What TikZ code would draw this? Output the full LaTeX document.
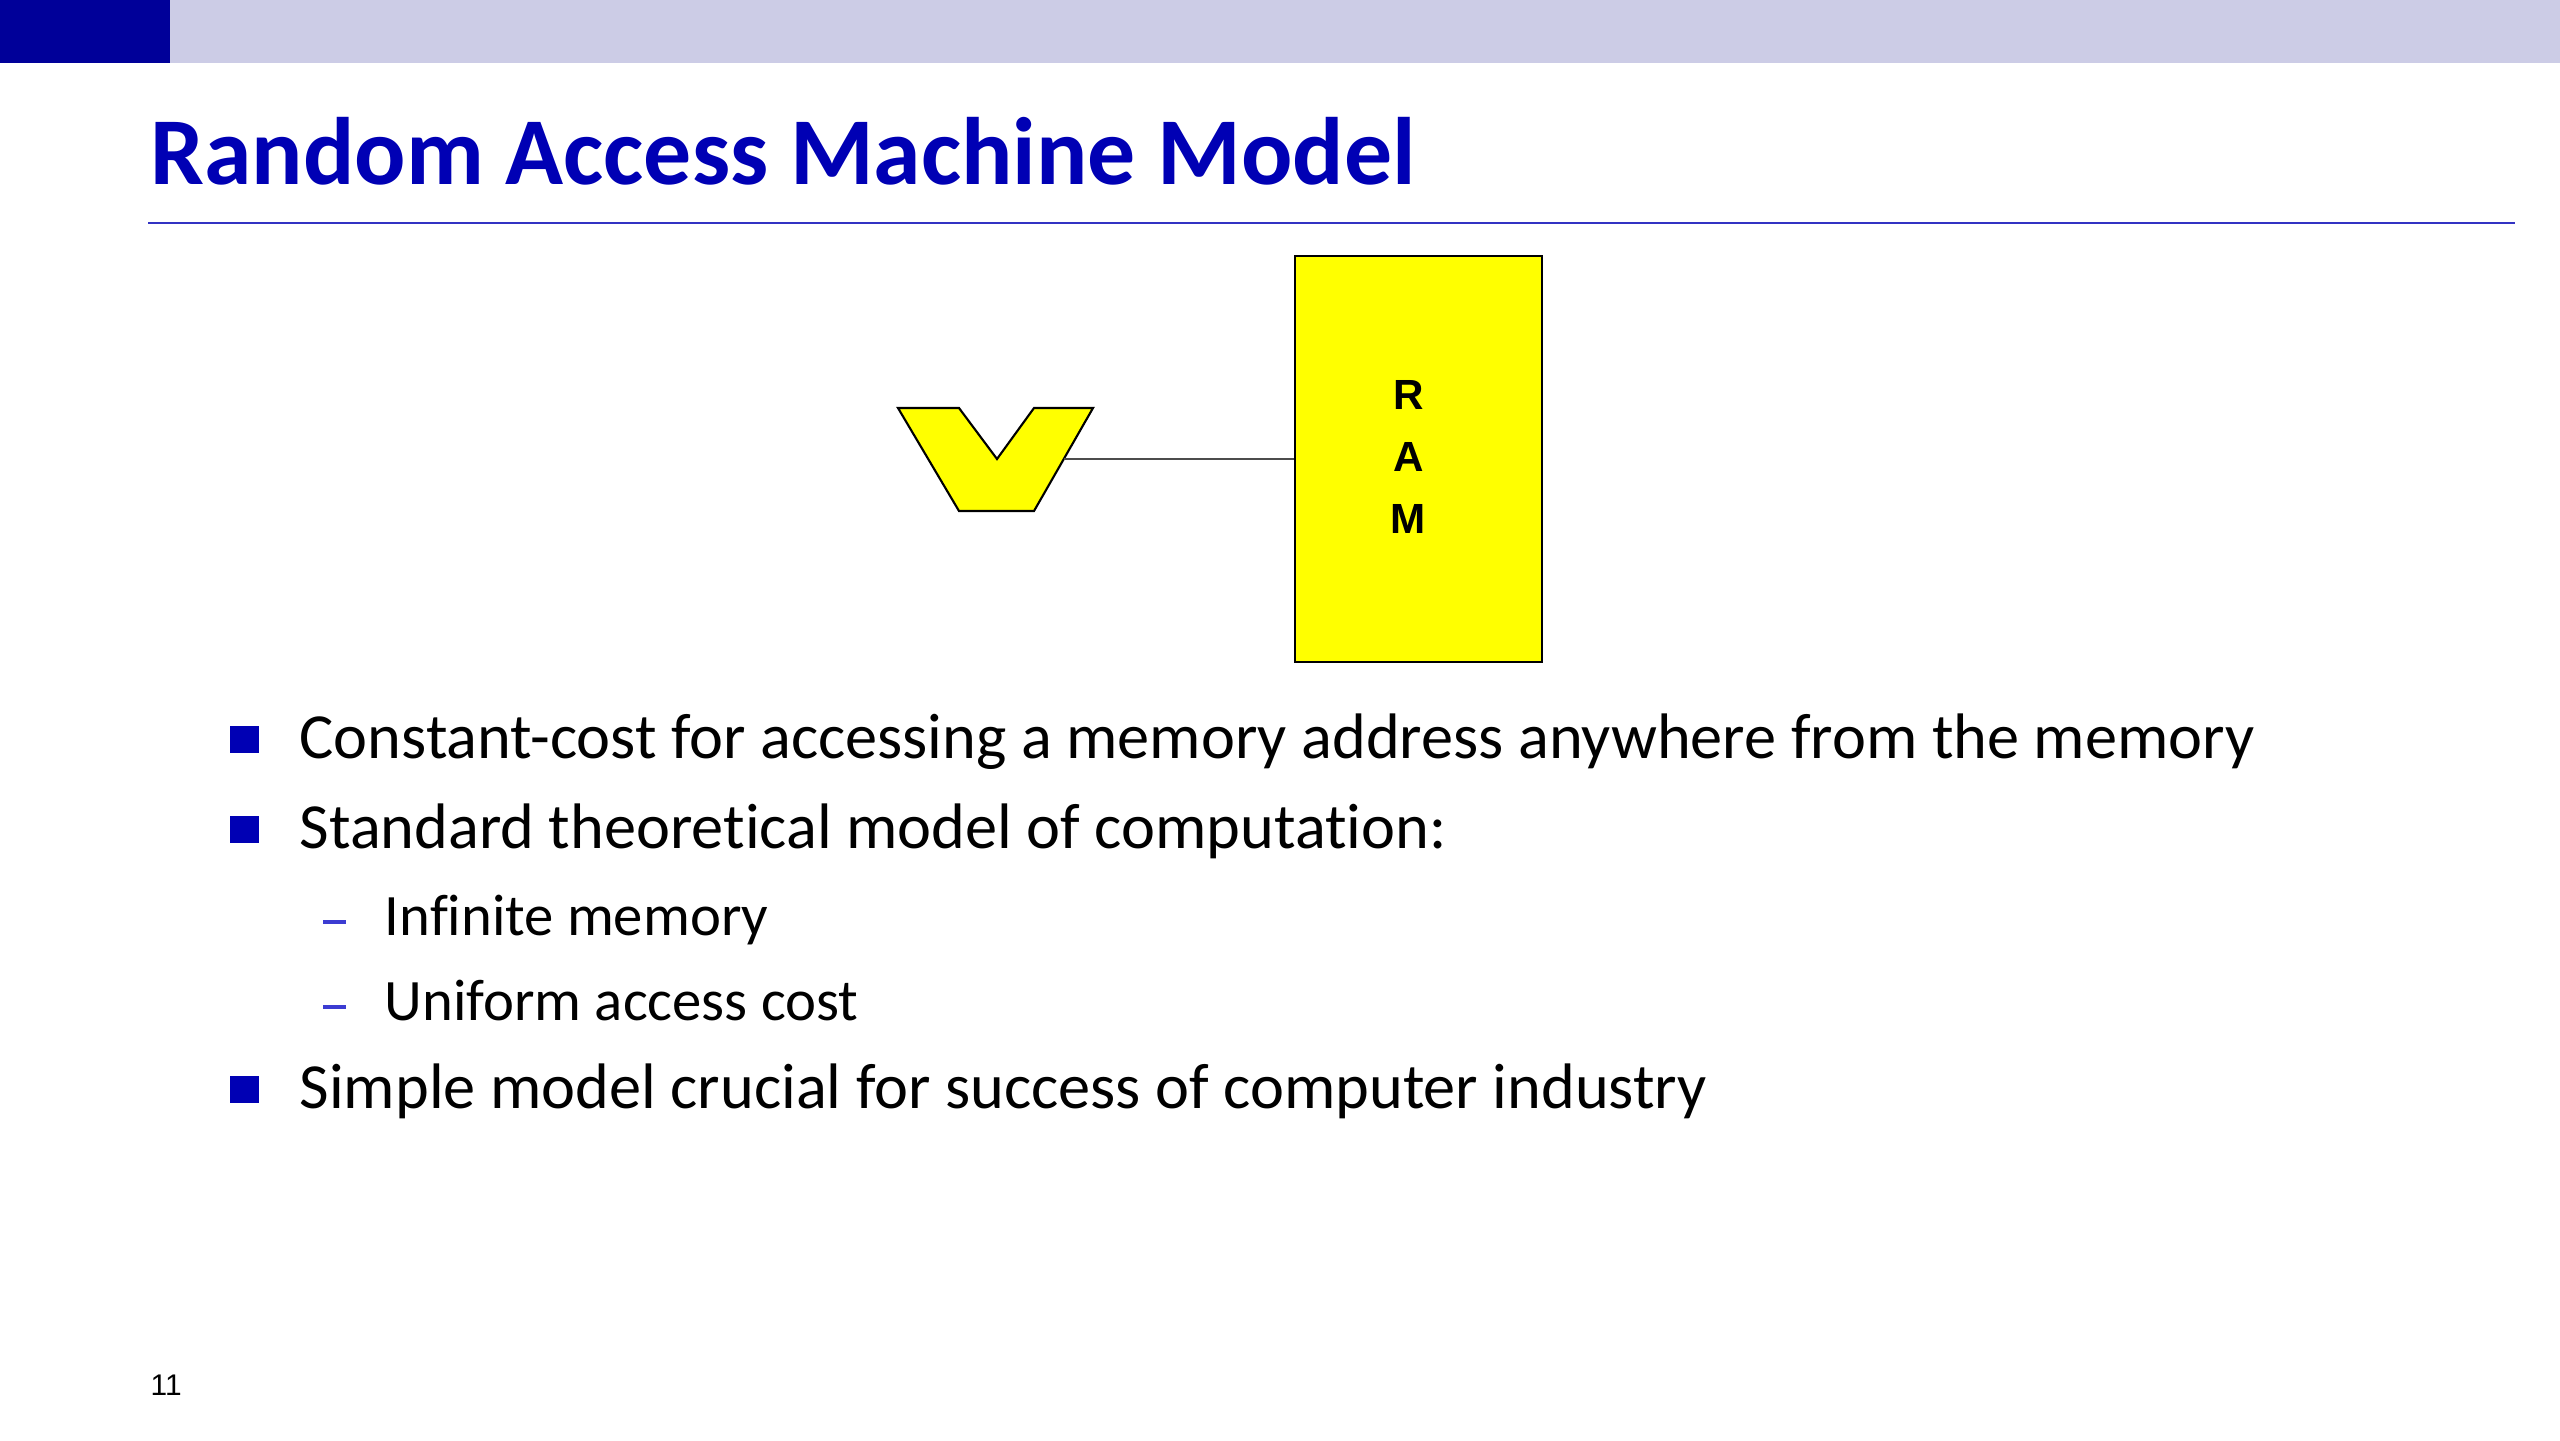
\documentclass[tikz,border=0pt]{standalone}
\usepackage{fontspec}
\setmainfont{Carlito}[Ligatures={NoCommon}]
\newfontfamily\arialfont{Liberation Sans}
\definecolor{darkband}{RGB}{0,0,153}
\definecolor{lightband}{RGB}{204,204,230}
\definecolor{titleblue}{RGB}{0,0,180}
\definecolor{dashblue}{RGB}{60,60,210}
\definecolor{ramyellow}{RGB}{255,255,0}
\tikzset{
  item/.style={anchor=base west, inner sep=0pt, font=\fontsize{18.3}{22}\selectfont},
  subitem/.style={anchor=base west, inner sep=0pt, font=\fontsize{16.7}{20}\selectfont},
  sqbullet/.style={fill=titleblue, minimum width=0.29cm, minimum height=0.27cm, inner sep=0pt},
  memory/.style={draw=black, line width=0.6pt, fill=ramyellow, minimum width=2.47cm,
    minimum height=4.06cm, inner sep=0pt},
  ramtext/.style={align=center, inner sep=0pt,
    font=\arialfont\bfseries\fontsize{12}{17.7}\selectfont},
  wire/.style={draw=black!70, line width=0.8pt}
}
\begin{document}
\begin{tikzpicture}
  \useasboundingbox (0,0) rectangle (25.6,-14.4);
  % header band
  \fill[lightband] (1.70,0) rectangle (25.6,-0.63);
  \fill[darkband] (0,0) rectangle (1.70,-0.63);
  \node[anchor=base west, inner sep=0pt, text=titleblue,
    font=\bfseries\fontsize{27.25}{32}\selectfont] (title) at (1.50,-1.84) {Random Access Machine Model};
  \draw[titleblue!80, line width=0.6pt] (1.48,-2.23) -- (25.15,-2.23);

  % processor and memory
  \filldraw[fill=ramyellow, draw=black, line width=0.6pt]
    (8.98,-4.08) -- (9.59,-4.08) -- (9.97,-4.59) -- (10.34,-4.08) -- (10.93,-4.08)
    -- (10.34,-5.11) -- (9.59,-5.11) -- cycle;
  \coordinate (alu) at (10.64,-4.59);
  \node[memory] (ram) at (14.185,-4.59) {};
  \node[ramtext] (ramlabel) at ([xshift=-0.1cm,yshift=0.02cm]ram.center) {R\\A\\M};
  \draw[wire] (alu) -- (ram.west);

  % bullets
  \node[item] (b1) at (2.99,-7.58) {Constant-cost for accessing a memory address anywhere from the memory};
  \node[item] (b2) at (2.99,-8.48) {Standard theoretical model of computation:};
  \node[subitem] (s1) at (3.84,-9.35) {Infinite memory};
  \node[subitem] (s2) at (3.84,-10.20) {Uniform access cost};
  \node[item] (b3) at (2.99,-11.08) {Simple model crucial for success of computer industry};
  \node[sqbullet] (m1) at (2.445,-7.395) {};
  \node[sqbullet] (m2) at (2.445,-8.295) {};
  \node[sqbullet] (m3) at (2.445,-10.895) {};
  \draw[dashblue, line width=1.2pt] (3.23,-9.22) -- (3.46,-9.22);
  \draw[dashblue, line width=1.2pt] (3.23,-10.07) -- (3.46,-10.07);

  % page number
  \node[anchor=base west, inner sep=0pt, font=\arialfont\fontsize{8.5}{10}\selectfont] (page) at (1.50,-13.95) {11};
\end{tikzpicture}
\end{document}
